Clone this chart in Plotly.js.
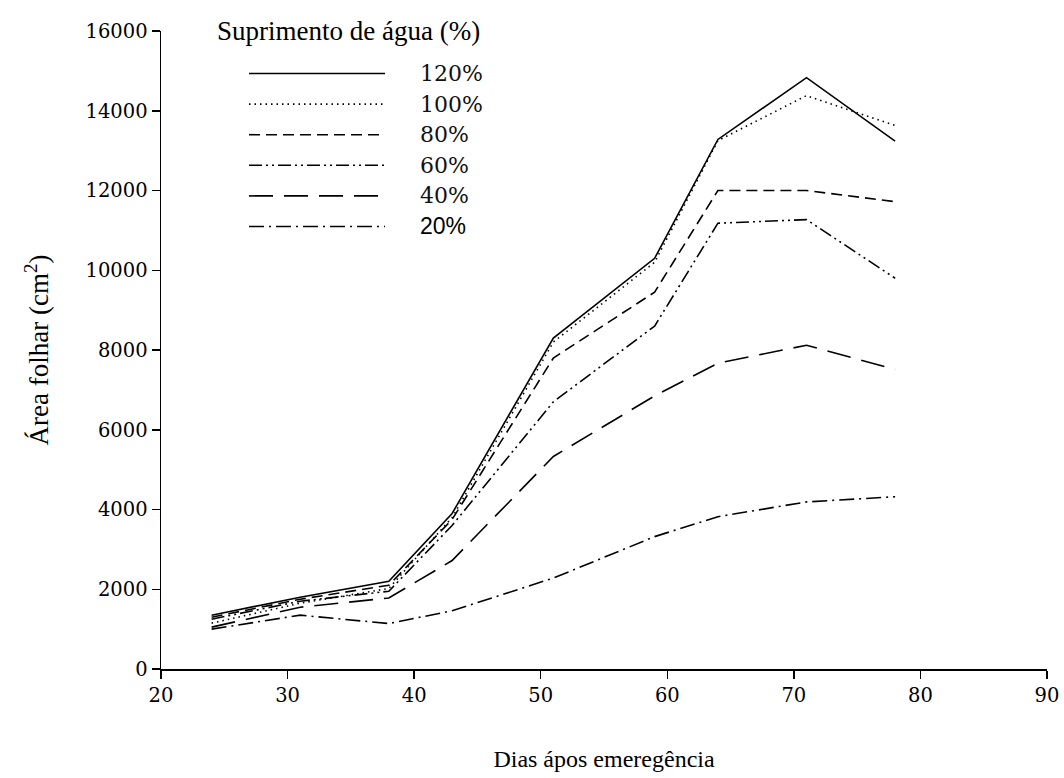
<!DOCTYPE html>
<html>
<head>
<meta charset="utf-8">
<script src="https://cdn.plot.ly/plotly-3.0.1.min.js"></script>
<style>html,body{margin:0;padding:0;background:#fff;}#chart{width:1064px;height:778px;}</style>
</head>
<body>
<div id="chart"></div>
<script>
// Data
const days = [24, 31, 38, 43, 51, 59, 64, 71, 78];
const s120 = [1350, 1800, 2200, 3900, 8300, 10300, 13280, 14830, 13240];
const s100 = [1150, 1650, 2020, 3800, 8200, 10200, 13250, 14380, 13630];
const s80  = [1300, 1750, 2100, 3750, 7800, 9450, 12000, 12000, 11720];
const s60  = [1250, 1700, 1950, 3600, 6700, 8600, 11180, 11270, 9800];
const s40  = [1050, 1550, 1780, 2720, 5330, 6850, 7670, 8120, 7510];
const s20  = [1000, 1350, 1140, 1460, 2280, 3320, 3820, 4190, 4320];
const seriesLabels = ['120%', '100%', '80%', '60%', '40%', '20%'];
const legendTitle = 'Suprimento de água (%)';
const xTitle = 'Dias ápos emeregência';
const yTitle = 'Área folhar (cm<sup>2</sup>)';

const seriesValues = [s120, s100, s80, s60, s40, s20];
const dashes = ['solid', '1.5px,4px', '11px,6px', '13px,4px,2px,4px,2px,4px', '24px,11px', '15px,5px,2px,5px'];

const serif = 'Liberation Serif';
const numSerif = 'DejaVu Serif';

const traces = seriesValues.map((v, i) => ({
  x: days, y: v, type: 'scatter', mode: 'lines',
  name: seriesLabels[i], showlegend: false,
  line: {color: '#000', width: 1.6, dash: dashes[i]},
  hoverinfo: 'x+y'
}));

// plot area in pixels
const L = 161, R = 1047, T = 31, B = 669;
const px = x => (x - L) / (R - L);
const py = y => (B - y) / (B - T);

const shapes = [];
const annotations = [];
annotations.push({
  xref: 'paper', yref: 'paper', x: px(215), y: py(31), xanchor: 'left', yanchor: 'middle',
  text: legendTitle, showarrow: false, font: {family: serif, size: 27, color: '#000'}
});
seriesLabels.forEach((lab, i) => {
  const yy = py(73.5 + i * 30.6);
  shapes.push({
    type: 'line', xref: 'paper', yref: 'paper', x0: px(249), x1: px(385), y0: yy, y1: yy,
    line: {color: '#000', width: 1.6, dash: dashes[i]}
  });
  const isLast = i === seriesLabels.length - 1;
  annotations.push({
    xref: 'paper', yref: 'paper', x: px(418), y: yy, xanchor: 'left', yanchor: 'middle',
    text: lab, showarrow: false,
    font: isLast ? {family: 'Liberation Sans', size: 23, color: '#000'}
                 : {family: numSerif, size: 22, color: '#111'}
  });
});

const layout = {
  width: 1064, height: 778,
  margin: {l: L, r: 1064 - R, t: T, b: 778 - B, pad: 0},
  paper_bgcolor: '#fff', plot_bgcolor: '#fff',
  showlegend: false,
  font: {family: serif, color: '#000'},
  xaxis: {
    range: [20, 90], tickvals: [20, 30, 40, 50, 60, 70, 80, 90],
    showgrid: false, zeroline: false, showline: true, linecolor: '#000', linewidth: 1.5,
    ticks: 'outside', ticklen: 8, tickwidth: 1.5, tickcolor: '#000',
    tickfont: {family: numSerif, size: 19.5, color: '#000'},
    title: {text: xTitle, font: {family: serif, size: 24, color: '#000'}, standoff: 44}
  },
  yaxis: {
    range: [0, 16000], tickvals: [0, 2000, 4000, 6000, 8000, 10000, 12000, 14000, 16000],
    tickformat: 'd',
    showgrid: false, zeroline: false, showline: true, linecolor: '#000', linewidth: 1.5,
    ticks: 'outside', ticklen: 8, tickwidth: 1.5, tickcolor: '#000',
    tickfont: {family: numSerif, size: 19.5, color: '#000'},
    title: {text: yTitle, font: {family: serif, size: 27, color: '#000'}, standoff: 29}
  },
  shapes: shapes,
  annotations: annotations
};

Plotly.newPlot('chart', traces, layout, {displayModeBar: false, staticPlot: true});
</script>
</body>
</html>
